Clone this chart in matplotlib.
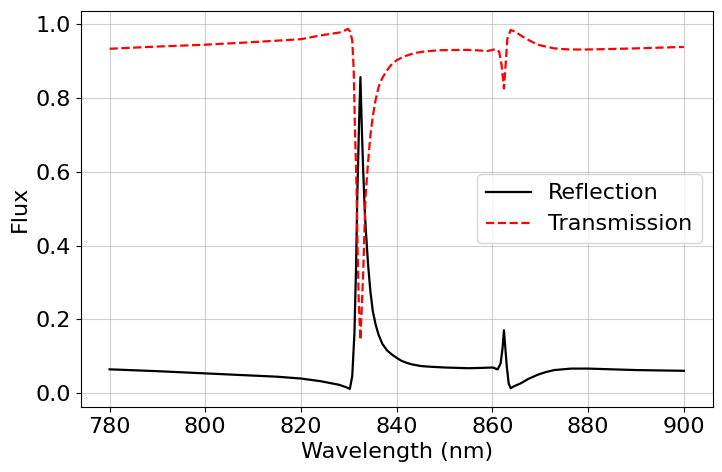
import matplotlib
matplotlib.use("Agg")
import matplotlib.pyplot as plt

wl_refl = [780, 790, 800, 810, 815, 820, 824, 826, 828, 829.5, 830.2, 830.7, 831.16,
           831.5, 831.75, 832.1, 832.41, 832.7, 833.0, 833.3, 833.5, 834.0, 834.5,
           835.0, 835.6, 836.2, 837.0, 838.0, 839.0, 840, 841, 842, 843, 845, 847,
           850, 855, 858, 860, 861.1, 861.7, 862.1, 862.4, 862.7, 863.0, 863.4,
           863.8, 864.5, 865.9, 867.5, 869.4, 871, 872.9, 876.4, 880, 885, 890, 895,
           900]
reflection = [0.064, 0.059, 0.053, 0.047, 0.044, 0.039, 0.032, 0.027, 0.022, 0.015,
              0.011, 0.045, 0.162, 0.342, 0.53, 0.72, 0.857, 0.72, 0.60, 0.50, 0.45,
              0.35, 0.275, 0.222, 0.185, 0.158, 0.133, 0.115, 0.104, 0.095, 0.087,
              0.082, 0.078, 0.073, 0.071, 0.069, 0.067, 0.068, 0.069, 0.064, 0.080,
              0.12, 0.170, 0.12, 0.071, 0.025, 0.013, 0.018, 0.026, 0.038, 0.049,
              0.056, 0.062, 0.066, 0.066, 0.064, 0.062, 0.061, 0.060]

wl_trans = [780, 790, 800, 810, 820, 824, 828, 829.2, 829.8, 830.3, 830.7, 831.0,
            831.3, 831.6, 831.8, 832.06, 832.41, 832.75, 833.0, 833.25, 833.46,
            834.0, 834.5, 835.0, 835.5, 836.2, 837.0, 838.0, 839.0, 840, 841.5,
            843.6, 846, 849, 855, 859, 860.7, 861.4, 861.9, 862.4, 862.8, 863.1,
            863.8, 864.8, 865.9, 867.5, 869.4, 872.9, 876, 880, 890, 900]
transmission = [0.934, 0.940, 0.945, 0.952, 0.960, 0.970, 0.978, 0.984, 0.988, 0.980,
                0.956, 0.88, 0.70, 0.56, 0.40, 0.25, 0.144, 0.25, 0.33, 0.44, 0.53,
                0.625, 0.70, 0.75, 0.79, 0.83, 0.855, 0.876, 0.893, 0.903, 0.913,
                0.922, 0.927, 0.930, 0.931, 0.928, 0.933, 0.926, 0.89, 0.826, 0.90,
                0.960, 0.985, 0.980, 0.970, 0.958, 0.945, 0.935, 0.932, 0.932, 0.935,
                0.939]

plt.rcParams['font.size'] = 16
fig, ax = plt.subplots(figsize=(7.22, 4.72), dpi=100)
fig.subplots_adjust(left=0.112, right=0.987, top=0.977, bottom=0.138)
ax.plot(wl_refl, reflection, color='black', lw=1.6, label='Reflection')
ax.plot(wl_trans, transmission, color='red', lw=1.6, ls='--', label='Transmission')
ax.set_xlabel('Wavelength (nm)')
ax.set_ylabel('Flux')
ax.set_xticks([780, 800, 820, 840, 860, 880, 900])
ax.set_yticks([0.0, 0.2, 0.4, 0.6, 0.8, 1.0])
ax.grid(True, alpha=0.6)
ax.legend(loc='center right')
fig.savefig('out.png', dpi=100)
